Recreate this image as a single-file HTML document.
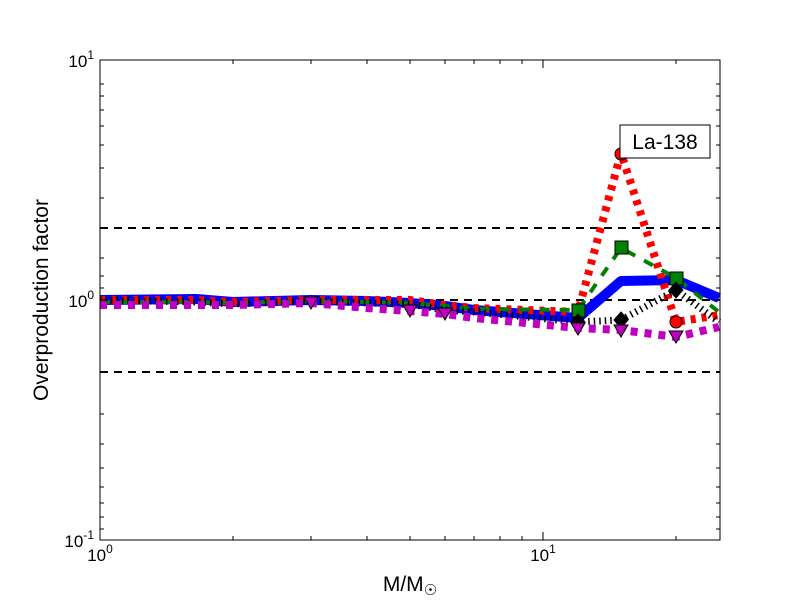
<!DOCTYPE html><html><head><style>body{margin:0;background:#fff}svg{display:block}</style></head><body>
<svg width="800" height="600" xmlns="http://www.w3.org/2000/svg" font-family="Liberation Sans, sans-serif">
<rect width="800" height="600" fill="#fff"/>
<g fill="none" stroke-linejoin="round">
<polyline stroke="#000" stroke-width="2" stroke-dasharray="8,6" points="100,228 720,228"/>
<polyline stroke="#000" stroke-width="2" stroke-dasharray="8,6" points="100,300 720,300"/>
<polyline stroke="#000" stroke-width="2" stroke-dasharray="8,6" points="100,372 720,372"/>
<polyline stroke="#0000ff" stroke-width="10" points="100,300 196,299 233,302 311,300 367,301 410,303 445,306 474,310 578,318 621,281 676,280 719,298"/>
<polyline stroke="#ff0000" stroke-width="8" stroke-dasharray="5,6" points="100,300 196,300 233,302 311,300 367,300 410,300 445,305 474,308 578,312 621,153 676,322 719,315"/>
<polyline stroke="#008000" stroke-width="4" stroke-dasharray="10,10" points="100,302 196,302 233,303 311,301 367,302 410,303 445,306 474,309 578,310 621,248 676,278 719,312"/>
<polyline stroke="#000" stroke-width="7" stroke-dasharray="1.5,4" points="100,300 196,302 233,304 311,301 367,303 410,304 445,310 474,312 578,322 621,320 676,290 719,322"/>
<polyline stroke="#c000c0" stroke-width="8" stroke-dasharray="7,7" points="100,305 196,305 233,305 311,303 367,308 410,311 445,314 474,318 578,328 621,330 676,337 719,327"/>
</g>
<g stroke="#000" stroke-width="1">
<circle cx="621" cy="154" r="6" fill="#ff0000"/><circle cx="676" cy="322" r="6" fill="#ff0000"/>
<rect x="615" y="241" width="13" height="13" fill="#008000"/><rect x="670" y="272" width="13" height="13" fill="#008000"/><rect x="572" y="304" width="13" height="13" fill="#008000"/>
<polygon points="621,312 628,320 621,328 614,320" fill="#000"/><polygon points="676,282 683,290 676,298 669,290" fill="#000"/><polygon points="578,314 585,322 578,330 571,322" fill="#000"/>
<polygon points="571,323 585,323 578,335" fill="#c000c0"/><polygon points="614,325 628,325 621,337" fill="#c000c0"/><polygon points="669,331 683,331 676,343" fill="#c000c0"/>
<polygon points="304,297 318,297 311,309" fill="#c000c0"/><polygon points="403,305 417,305 410,317" fill="#c000c0"/><polygon points="438,308 452,308 445,320" fill="#c000c0"/>
</g>
<rect x="100" y="60" width="620" height="480" fill="none" stroke="#000" stroke-width="1"/>
<g stroke="#000" stroke-width="1">
<line x1="543" y1="540" x2="543" y2="532"/><line x1="543" y1="60" x2="543" y2="68"/>
<line x1="100" y1="300" x2="108" y2="300"/><line x1="720" y1="300" x2="712" y2="300"/>
<path d="M233 540v-4M311 540v-4M367 540v-4M410 540v-4M445 540v-4M474 540v-4M500 540v-4M522 540v-4M676 540v-4M233 60v4M311 60v4M367 60v4M410 60v4M445 60v4M474 60v4M500 60v4M522 60v4M676 60v4"/>
<path d="M100 228h4M100 258h4M100 276h4M100 288h4M100 372h4M100 414h4M100 444h4M100 468h4M100 487h4M100 503h4M100 517h4M100 529h4M100 84h4M100 96h4M100 110h4M100 126h4M100 145h4M100 168h4M100 198h4"/>
<path d="M720 228h-4M720 258h-4M720 276h-4M720 288h-4M720 372h-4M720 414h-4M720 444h-4M720 468h-4M720 487h-4M720 503h-4M720 517h-4M720 529h-4M720 84h-4M720 96h-4M720 110h-4M720 126h-4M720 145h-4M720 168h-4M720 198h-4"/>
</g>
<g font-size="17" fill="#000">
<text x="100" y="561" text-anchor="middle">10<tspan dy="-8" font-size="12">0</tspan></text>
<text x="543" y="561" text-anchor="middle">10<tspan dy="-8" font-size="12">1</tspan></text>
<text x="94" y="67" text-anchor="end">10<tspan dy="-8" font-size="12">1</tspan></text>
<text x="94" y="307" text-anchor="end">10<tspan dy="-8" font-size="12">0</tspan></text>
<text x="94" y="547" text-anchor="end">10<tspan dy="-8" font-size="12">-1</tspan></text>
</g>
<text x="410" y="591" font-size="21" text-anchor="middle">M/M<tspan font-size="15" dy="4">☉</tspan></text>
<text x="48" y="300" font-size="21" text-anchor="middle" transform="rotate(-90 48 300)">Overproduction factor</text>
<rect x="620" y="125" width="90" height="33" fill="#fff" stroke="#000"/>
<text x="665" y="149" font-size="21" text-anchor="middle">La-138</text>
</svg></body></html>
